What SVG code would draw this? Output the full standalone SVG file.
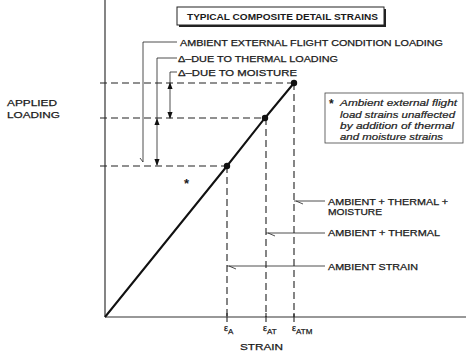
<svg xmlns="http://www.w3.org/2000/svg" width="466" height="352" viewBox="0 0 466 352">
<defs>
<style>
text{font-family:"Liberation Sans",Arial,sans-serif;fill:#1a1a1a;}
.lbl{font-size:9px;stroke:#1a1a1a;stroke-width:0.25;}
.ttl{font-size:9px;font-weight:bold;}
.note{font-size:9.5px;font-style:italic;stroke:#1a1a1a;stroke-width:0.2;}
.axis{stroke:#333;stroke-width:1.2;fill:none;}
.dash{stroke:#222;stroke-width:1.1;stroke-dasharray:7,4;fill:none;}
.lead{stroke:#222;stroke-width:0.8;fill:none;}
.curve{stroke:#111;stroke-width:2;fill:none;}
</style>
<marker id="ah" viewBox="0 0 8 8" refX="7" refY="4" markerWidth="7" markerHeight="7" orient="auto-start-reverse" markerUnits="userSpaceOnUse">
<path d="M0,1 L8,4 L0,7 Z" fill="#111"/>
</marker>
</defs>
<rect width="466" height="352" fill="#fff"/>

<g id="axes">
<line class="axis" x1="105" y1="0" x2="105" y2="317"/>
<line class="axis" x1="105" y1="317" x2="466" y2="317"/>
<line class="axis" x1="227" y1="313" x2="227" y2="322"/>
<line class="axis" x1="266" y1="313" x2="266" y2="322"/>
<line class="axis" x1="294" y1="313" x2="294" y2="322"/>
</g>

<g id="title">
<rect x="179" y="9" width="207" height="18" fill="#222"/>
<rect x="177" y="7" width="207" height="18" fill="#fff" stroke="#222" stroke-width="1"/>
<text class="ttl" x="187" y="19.5" textLength="191" lengthAdjust="spacingAndGlyphs">TYPICAL COMPOSITE DETAIL STRAINS</text>
</g>

<g id="connectors">
<line class="dash" x1="100" y1="83" x2="294" y2="83"/>
<line class="dash" x1="100" y1="118" x2="265" y2="118"/>
<line class="dash" x1="100" y1="166" x2="227" y2="166"/>
<line class="dash" x1="294" y1="83" x2="294" y2="317"/>
<line class="dash" x1="266" y1="118" x2="266" y2="317"/>
<line class="dash" x1="227" y1="166" x2="227" y2="317"/>
<path class="lead" d="M177,42 H143 V162 M143,162 L140,158"/>
<path class="lead" d="M177,58 H157 V119"/>
<line class="lead" x1="157" y1="119" x2="157" y2="165" marker-start="url(#ah)" marker-end="url(#ah)"/>
<path class="lead" d="M177,72 H170 V83"/>
<line class="lead" x1="170" y1="83" x2="170" y2="118" marker-start="url(#ah)" marker-end="url(#ah)"/>
<path class="lead" d="M325,201 H294 M296,201 L303,204"/>
<path class="lead" d="M325,233 H266 M268,233 L275,236"/>
<path class="lead" d="M325,266 H227 M229,266 L236,269"/>
</g>

<g id="curve">
<polyline class="curve" points="105,317 227,166 265,118 294,83"/>
<circle cx="227" cy="166" r="3.2" fill="#111"/>
<circle cx="265" cy="118" r="3.2" fill="#111"/>
<circle cx="294" cy="83" r="3.2" fill="#111"/>
<text x="184" y="188" font-size="13" style="font-weight:bold">*</text>
</g>

<g id="labels-top">
<text class="lbl" x="180" y="46" textLength="263" lengthAdjust="spacingAndGlyphs">AMBIENT EXTERNAL FLIGHT CONDITION LOADING</text>
<text class="lbl" x="178" y="62" textLength="160" lengthAdjust="spacingAndGlyphs">Δ–DUE TO THERMAL LOADING</text>
<text class="lbl" x="178" y="76" textLength="119" lengthAdjust="spacingAndGlyphs">Δ–DUE TO MOISTURE</text>
</g>

<g id="note">
<rect x="325" y="93" width="138" height="50" fill="#fff" stroke="#444" stroke-width="0.8"/>
<text x="329" y="108" font-size="12" style="font-weight:bold">*</text>
<text class="note" x="340" y="106" textLength="117" lengthAdjust="spacingAndGlyphs">Ambient external flight</text>
<text class="note" x="340" y="118" textLength="115" lengthAdjust="spacingAndGlyphs">load strains unaffected</text>
<text class="note" x="340" y="129" textLength="114" lengthAdjust="spacingAndGlyphs">by addition of thermal</text>
<text class="note" x="340" y="140" textLength="103" lengthAdjust="spacingAndGlyphs">and moisture strains</text>
</g>

<g id="y-label">
<text class="lbl" x="7" y="106" font-size="9.5" textLength="50" lengthAdjust="spacingAndGlyphs">APPLIED</text>
<text class="lbl" x="7" y="118" font-size="9.5" textLength="53" lengthAdjust="spacingAndGlyphs">LOADING</text>
</g>

<g id="labels-right">
<text class="lbl" x="328" y="205" textLength="120" lengthAdjust="spacingAndGlyphs">AMBIENT + THERMAL +</text>
<text class="lbl" x="328" y="215" textLength="54" lengthAdjust="spacingAndGlyphs">MOISTURE</text>
<text class="lbl" x="328" y="236" textLength="112" lengthAdjust="spacingAndGlyphs">AMBIENT + THERMAL</text>
<text class="lbl" x="328" y="270" textLength="90" lengthAdjust="spacingAndGlyphs">AMBIENT STRAIN</text>
</g>

<g id="x-labels">
<text class="lbl" x="224" y="331" font-size="9">ε<tspan font-size="8" dy="3">A</tspan></text>
<text class="lbl" x="263" y="331" font-size="9">ε<tspan font-size="8" dy="3">AT</tspan></text>
<text class="lbl" x="292" y="331" font-size="9">ε<tspan font-size="8" dy="3">ATM</tspan></text>
<text class="lbl" x="240" y="350" font-size="10" textLength="43" lengthAdjust="spacingAndGlyphs">STRAIN</text>
</g>
</svg>
